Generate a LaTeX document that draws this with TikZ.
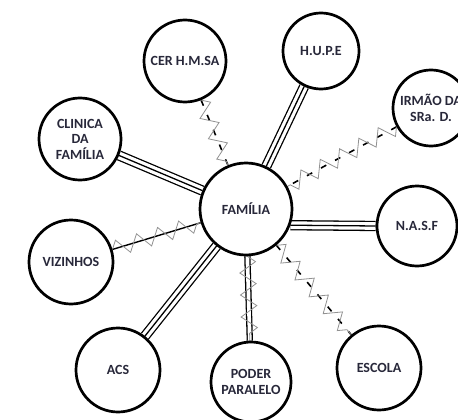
\documentclass[tikz,border=0pt]{standalone}
\usepackage{fontspec}
\setmainfont{Carlito}
\usetikzlibrary{decorations.pathmorphing,backgrounds}
\definecolor{ink}{RGB}{40,40,58}
\definecolor{zzgray}{RGB}{145,145,145}
\tikzset{
  member/.style={
    circle,
    draw=black,
    line width=2.7pt,
    fill=white,
    minimum size=#1,
    inner sep=0pt,
    align=center,
    text=ink,
    font=\fontsize{14}{15.5}\selectfont\bfseries
  },
  triple/.style={
    draw=black,
    line width=1.3pt,
    preaction={draw=black, line width=10.3pt},
    preaction={draw=white, line width=7.7pt}
  },
  twin/.style={draw=black, double=white, double distance=3.7pt, line width=1.3pt},
  solid link/.style={draw=black, line width=1.4pt},
  broken/.style={draw=black, line width=1.6pt, dash pattern=on 6pt off 10pt},
  conflict/.style={
    draw=zzgray,
    line width=0.8pt,
    decorate,
    decoration={zigzag, segment length=22pt, amplitude=8pt}
  },
}

\begin{document}
\begin{tikzpicture}[x=1pt,y=-1pt]
\useasboundingbox (0,0) rectangle (458,420);

\node[member=92pt] (fam) at (246,209) {FAMÍLIA};

\node[member=82pt] (cer) at (185,61) {CER H.M.SA};
\node[member=76pt] (hupe) at (321,51) {H.U.P.E};
\node[member=76pt] (irmao) at (431,108) {IRMÃO DA\\SRa. D.};
\node[member=82pt] (clinica) at (80,139) {CLINICA\\DA\\FAMÍLIA};
\node[member=84pt] (viz) at (71,262) {VIZINHOS};
\node[member=80pt] (nasf) at (417,226) {N.A.S.F};
\node[member=84pt] (acs) at (118,370) {ACS};
\node[member=80pt] (poder) at (251,382) {PODER\\PARALELO};
\node[member=84pt] (escola) at (379,368) {ESCOLA};

\begin{pgfonlayer}{background}
% strong ties
\draw[triple] (hupe) -- (fam);
\draw[triple] (clinica) -- (fam);
\draw[triple] (acs) -- (fam);
\draw[triple] (fam.-20) -- (nasf.west);
\draw[twin] (fam) -- (poder);
% weak or conflicting ties
\draw[broken] (cer) -- (fam);
\draw[broken] (irmao) -- (fam);
\draw[broken] (fam) -- (escola);
\draw[solid link] (viz) -- (fam);
\draw[conflict] (cer) -- (fam);
\draw[conflict] (irmao) -- (fam);
\draw[conflict] (fam) -- (escola);
\draw[conflict] (viz) -- (fam);
\draw[conflict] (fam) -- (poder);
\end{pgfonlayer}

\end{tikzpicture}
\end{document}
